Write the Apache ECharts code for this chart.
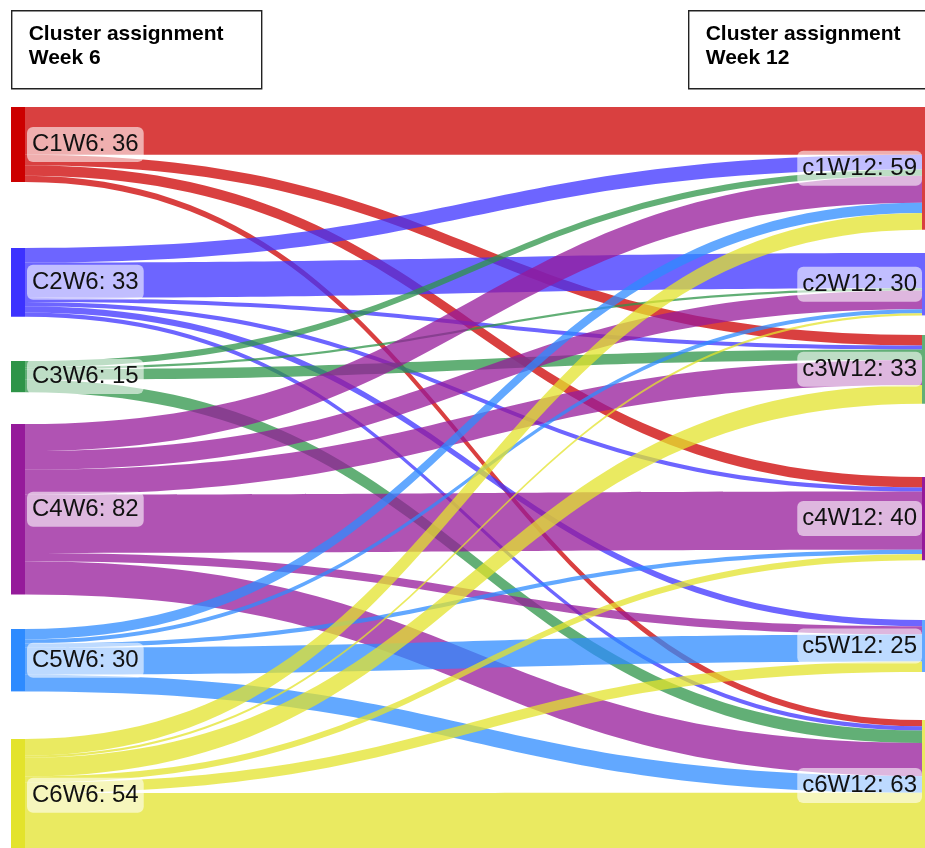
<!DOCTYPE html>
<html><head><meta charset="utf-8">
<script src="https://cdn.jsdelivr.net/npm/echarts@6/dist/echarts.min.js"></script>
<style>html,body{margin:0;padding:0;background:#fff}#c{width:925px;height:848px}</style>
</head><body><div id="c"></div>
<script>
// ---- data ----
const week6Nodes = ['C1W6', 'C2W6', 'C3W6', 'C4W6', 'C5W6', 'C6W6'];
const week12Nodes = ['c1W12', 'c2W12', 'c3W12', 'c4W12', 'c5W12', 'c6W12'];
// flows from each Week 6 cluster to c1..c6 of Week 12
const fromC1 = [23, 0, 5, 5, 0, 3];
const fromC2 = [7, 17, 2, 2, 3, 2];
const fromC3 = [3, 1, 5, 0, 0, 6];
const fromC4 = [13, 9, 12, 28, 4, 16];
const fromC5 = [5, 2, 0, 2, 13, 8];
const fromC6 = [8, 1, 9, 3, 5, 28];
const flows = [fromC1, fromC2, fromC3, fromC4, fromC5, fromC6];

// ---- style / layout ----
const clusterColors = ['#cc0000', '#3c32ff', '#2e9448', '#951a9a', '#2e8bff', '#e3e32c'];
const rightNodeOpacity = [0.75, 0.75, 0.75, 1, 0.75, 0.75];
const LAYOUT_H = 745;
const leftOffsets = [0, 141, 254, 317, 522, 632];   // px from layout top
const rightOffsets = [0, 146, 228, 370, 513, 613];
const FONT = "'Liberation Sans', Arial, Helvetica, sans-serif";

const labelBase = {
  show: true, color: '#111', fontSize: 24, fontFamily: FONT,
  backgroundColor: 'rgba(255,255,255,0.58)', borderRadius: 6,
  padding: [6, 5, 5, 5],
  formatter: p => p.name + ': ' + p.value
};

const nodes = [];
week6Nodes.forEach((n, i) => nodes.push({
  name: n, depth: 0, localY: leftOffsets[i] / LAYOUT_H,
  itemStyle: { color: clusterColors[i] },
  label: Object.assign({}, labelBase, { position: 'right', distance: 2 })
}));
week12Nodes.forEach((n, j) => nodes.push({
  name: n, depth: 1, localY: rightOffsets[j] / LAYOUT_H,
  itemStyle: { color: clusterColors[j], opacity: rightNodeOpacity[j] },
  label: Object.assign({}, labelBase, { position: 'left', distance: 0 })
}));
const links = [];
flows.forEach((row, i) => row.forEach((v, j) => {
  if (v > 0) links.push({ source: week6Nodes[i], target: week12Nodes[j], value: v });
}));

function headerBox(x, lines) {
  return {
    type: 'group', left: x, top: 10,
    children: [
      { type: 'rect', shape: { x: 0, y: 0, width: 250, height: 78 },
        style: { fill: '#fff', stroke: '#222', lineWidth: 1.4 } },
      { type: 'text', x: 17, y: 12,
        style: { text: lines, font: "bold 21px " + FONT, fill: '#000', lineHeight: 24 } }
    ]
  };
}

const chart = echarts.init(document.getElementById('c'), null, { renderer: 'canvas' });
chart.setOption({
  animation: false,
  backgroundColor: '#fff',
  graphic: [
    headerBox(11, 'Cluster assignment\nWeek 6'),
    headerBox(688, 'Cluster assignment\nWeek 12')
  ],
  series: [{
    type: 'sankey',
    left: 11, top: 107, width: 925, height: LAYOUT_H,
    nodeWidth: 14, nodeGap: 45,
    layoutIterations: 0,
    draggable: false,
    emphasis: { disabled: true },
    itemStyle: { borderWidth: 0 },
    lineStyle: { color: 'source', opacity: 0.75, curveness: 0.5 },
    data: nodes,
    links: links
  }]
});
</script></body></html>
